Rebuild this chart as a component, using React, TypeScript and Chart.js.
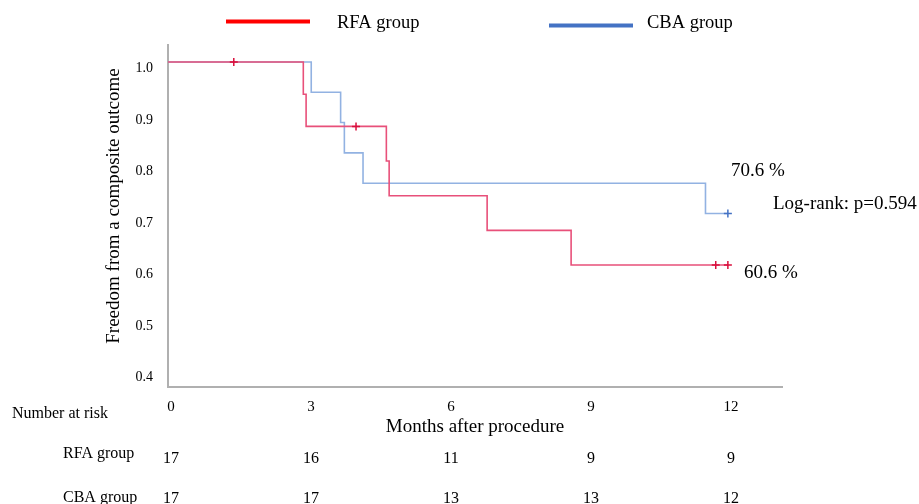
import React, { useEffect, useRef } from 'react';
import { Chart, registerables } from 'chart.js';

Chart.register(...registerables);

// ---- data ----
const monthTicks = [0, 3, 6, 9, 12];
const yTicks = [0.4, 0.5, 0.6, 0.7, 0.8, 0.9, 1.0];

const rfaTimes = [0, 2.9, 2.96, 4.68, 4.74, 6.84, 8.64, 12.0];
const rfaSurvival = [1, 0.9375, 0.875, 0.8077, 0.7404, 0.6731, 0.6058, 0.6058];
const rfaCensored = [1.41, 4.03, 11.74, 12.0];

const cbaTimes = [0, 3.07, 3.7, 3.78, 4.18, 11.52, 12.0];
const cbaSurvival = [1, 0.9412, 0.8824, 0.8235, 0.7647, 0.7059, 0.7059];
const cbaCensored = [12.0];

const groupNames = ['RFA group', 'CBA group'];
const rfaAtRisk = [17, 16, 11, 9, 9];
const cbaAtRisk = [17, 17, 13, 13, 12];

const rfaFinalLabel = '60.6 %';
const cbaFinalLabel = '70.6 %';
const logRankLabel = 'Log-rank: p=0.594';
const yTitle = 'Freedom from a composite outcome';
const xTitle = 'Months after procedure';
const atRiskTitle = 'Number at risk';

// ---- styles ----
const SERIF = "'Liberation Serif', 'Times New Roman', serif";
const RFA_LINE = '#E8507A';
const CBA_LINE = '#92B2E2';
const RFA_MARK = '#D90F3C';
const CBA_MARK = '#4472C4';
const RFA_LEGEND = '#FF0000';
const CBA_LEGEND = '#4472C4';

function survivalAt(times: number[], surv: number[], t: number): number {
  let v = surv[0];
  for (let i = 0; i < times.length; i++) {
    if (times[i] <= t) v = surv[i];
  }
  return v;
}

const overlayPlugin = {
  id: 'kmOverlay',
  afterDraw(chart: any) {
    const ctx = chart.ctx as CanvasRenderingContext2D;
    const xs = chart.scales.x;
    ctx.save();
    ctx.fillStyle = '#000';

    // legend
    ctx.lineCap = 'butt';
    ctx.lineWidth = 4;
    ctx.strokeStyle = RFA_LEGEND;
    ctx.beginPath();
    ctx.moveTo(226, 21.5);
    ctx.lineTo(310, 21.5);
    ctx.stroke();
    ctx.strokeStyle = CBA_LEGEND;
    ctx.beginPath();
    ctx.moveTo(549, 25.5);
    ctx.lineTo(633, 25.5);
    ctx.stroke();
    ctx.font = `18.5px ${SERIF}`;
    ctx.textAlign = 'left';
    ctx.textBaseline = 'alphabetic';
    ctx.fillText(groupNames[0], 337, 27.5);
    ctx.fillText(groupNames[1], 647, 27.5);

    // y title
    ctx.save();
    ctx.font = `19px ${SERIF}`;
    ctx.translate(119, 206);
    ctx.rotate(-Math.PI / 2);
    ctx.textAlign = 'center';
    ctx.fillText(yTitle, 0, 0);
    ctx.restore();

    // annotations
    ctx.font = `19px ${SERIF}`;
    ctx.textAlign = 'left';
    ctx.fillText(cbaFinalLabel, 731, 176);
    ctx.fillText(logRankLabel, 773, 209);
    ctx.fillText(rfaFinalLabel, 744, 278);

    // number at risk table
    ctx.font = `16px ${SERIF}`;
    ctx.fillText(atRiskTitle, 12, 418);
    ctx.fillText(groupNames[0], 63, 458);
    ctx.fillText(groupNames[1], 63, 502);
    ctx.font = `16px ${SERIF}`;
    ctx.textAlign = 'center';
    monthTicks.forEach((t, i) => {
      const px = xs.getPixelForValue(t) + 3;
      ctx.fillText(String(rfaAtRisk[i]), px, 463);
      ctx.fillText(String(cbaAtRisk[i]), px, 503);
    });
    ctx.restore();
  },
};

export default function App() {
  const canvasRef = useRef<HTMLCanvasElement | null>(null);

  useEffect(() => {
    const canvas = canvasRef.current;
    if (!canvas) return;

    const rfaLine = rfaTimes.map((t, i) => ({ x: t, y: rfaSurvival[i] }));
    const cbaLine = cbaTimes.map((t, i) => ({ x: t, y: cbaSurvival[i] }));
    const rfaMarks = rfaCensored.map((t) => ({ x: t, y: survivalAt(rfaTimes, rfaSurvival, t) }));
    const cbaMarks = cbaCensored.map((t) => ({ x: t, y: survivalAt(cbaTimes, cbaSurvival, t) }));

    const chart = new Chart(canvas, {
      type: 'line',
      data: {
        datasets: [
          {
            label: groupNames[0] + ' censored',
            data: rfaMarks,
            showLine: false,
            pointStyle: 'cross',
            pointRadius: 4,
            borderColor: RFA_MARK,
            borderWidth: 1.5,
          },
          {
            label: groupNames[1] + ' censored',
            data: cbaMarks,
            showLine: false,
            pointStyle: 'cross',
            pointRadius: 4,
            borderColor: CBA_MARK,
            borderWidth: 1.5,
          },
          {
            label: groupNames[0],
            data: rfaLine,
            borderColor: RFA_LINE,
            borderWidth: 1.6,
            stepped: 'before',
            pointRadius: 0,
            fill: false,
          },
          {
            label: groupNames[1],
            data: cbaLine,
            borderColor: CBA_LINE,
            borderWidth: 1.6,
            stepped: 'before',
            pointRadius: 0,
            fill: false,
          },
        ],
      },
      options: {
        responsive: false,
        animation: false,
        devicePixelRatio: 1,
        layout: { padding: { left: 0, top: 45, right: 137, bottom: 0 } },
        plugins: {
          legend: { display: false },
          tooltip: { enabled: false },
        },
        scales: {
          x: {
            type: 'linear',
            min: 0,
            max: 13.16,
            afterFit: (scale: any) => {
              scale.height = 117;
            },
            afterBuildTicks: (scale: any) => {
              scale.ticks = monthTicks.map((v) => ({ value: v }));
            },
            grid: { display: false, drawTicks: false },
            border: { display: true, color: '#B0B0B0', width: 2 },
            ticks: {
              padding: 11,
              color: '#000',
              font: { family: SERIF, size: 15 },
              maxRotation: 0,
              labelOffset: 3,
              callback: (v: any) => String(v),
            },
            title: {
              display: true,
              text: xTitle,
              color: '#000',
              font: { family: SERIF, size: 19 },
              padding: { top: 0, bottom: 65.6 },
            },
          },
          y: {
            type: 'linear',
            min: 0.369,
            max: 1.033,
            afterFit: (scale: any) => {
              scale.width = 168;
            },
            afterBuildTicks: (scale: any) => {
              scale.ticks = yTicks.map((v) => ({ value: v }));
            },
            grid: { display: false, drawTicks: false },
            border: { display: true, color: '#B0B0B0', width: 2 },
            ticks: {
              padding: 15,
              labelOffset: 6.5,
              color: '#000',
              font: { family: SERIF, size: 14 },
              callback: (v: any) => Number(v).toFixed(1),
            },
          },
        },
      },
      plugins: [overlayPlugin],
    });

    return () => {
      chart.destroy();
    };
  }, []);

  return (
    <div style={{ position: 'absolute', left: 0, top: 0, width: 919, height: 504, background: '#fff' }}>
      <canvas ref={canvasRef} width={919} height={504} />
    </div>
  );
}
